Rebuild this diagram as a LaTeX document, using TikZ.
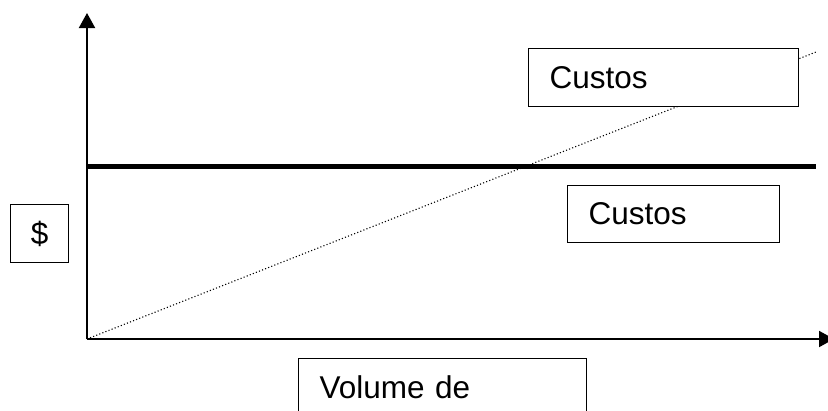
\documentclass[tikz,border=0pt]{standalone}
\usepackage{fontspec}
\setmainfont{Liberation Sans}
\usetikzlibrary{arrows.meta}
\begin{document}
\begin{tikzpicture}[x=1pt,y=-1pt,
  axis/.style={line width=2pt,-{Triangle[width=16pt,length=15pt]}},
  lblbox/.style={draw,fill=white,line width=1.3pt,minimum height=58pt,inner xsep=21pt,
    align=left,font=\fontsize{31.5}{36}\selectfont,anchor=north west},
  dotline/.style={line width=1.1pt,dash pattern=on 1.1pt off 2.2pt},
  fixline/.style={line width=5pt}]
\clip (0,0) rectangle (828,410);
\fill[white] (0,0) rectangle (828,410);
\coordinate (origin) at (87,339);
\coordinate (ytop) at (87,13);
\coordinate (xend) at (834,339);
\coordinate (fixl) at (87,166);
\coordinate (fixr) at (816,166);
\coordinate (varend) at (816,52);
\draw[axis] (origin) -- (ytop);
\draw[axis] (origin) -- (xend);
\draw[dotline] (origin) -- (varend);
\draw[fixline] (fixl) -- (fixr);
\node[lblbox,text width=228pt] (cvar) at (528,48) {Custos};
\node[lblbox,text width=170pt,minimum height=57pt] (cfix) at (567,185) {Custos};
\node[draw,fill=white,line width=1.3pt,minimum width=58pt,minimum height=58pt,inner sep=0pt,
  font=\fontsize{31.5}{36}\selectfont,anchor=north west] (dollar) at (10,204) {\$};
\node[lblbox,text width=246pt] (vol) at (298,358) {Volume de};
\end{tikzpicture}
\end{document}
